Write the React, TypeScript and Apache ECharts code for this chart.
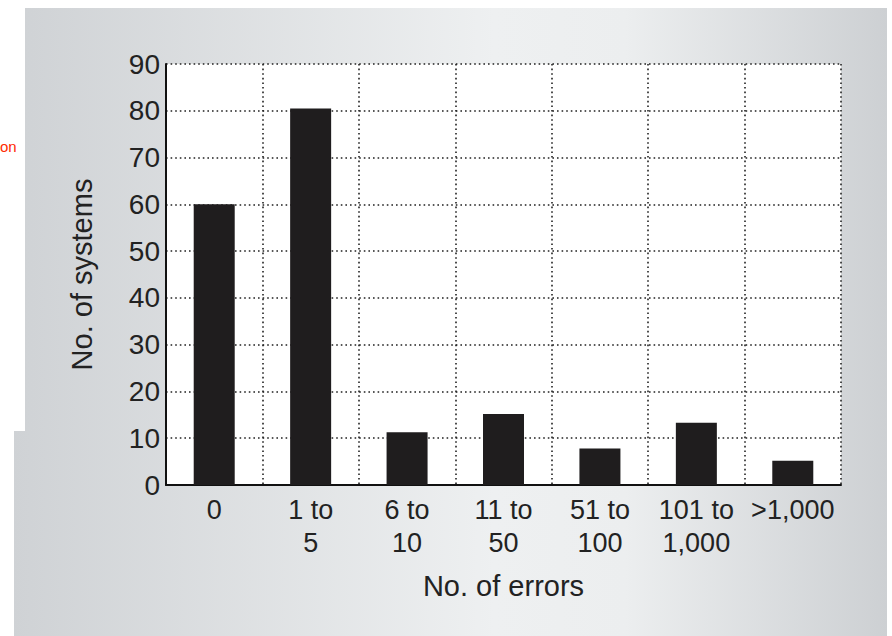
import React, { useEffect, useRef } from "react";
import * as echarts from "echarts";

const categories = ["0", "1 to\n5", "6 to\n10", "11 to\n50", "51 to\n100", "101 to\n1,000", ">1,000"];
const systemCounts = [60, 80.5, 11.3, 15.2, 7.8, 13.3, 5.2];
const yTicks = { min: 0, max: 90, interval: 10 };
const xAxisTitle = "No. of errors";
const yAxisTitle = "No. of systems";

export default function App() {
  const ref = useRef<HTMLDivElement>(null);
  useEffect(() => {
    document.body.style.margin = "0";
    const chart = echarts.init(ref.current!, undefined, { renderer: "svg" });
    const font = "'Liberation Sans', Arial, Helvetica, sans-serif";
    const txt = "#222222";
    chart.setOption({
      animation: false,
      graphic: [
        {
          type: "polygon",
          z: -10,
          silent: true,
          shape: {
            points: [
              [25, 8],
              [887, 8],
              [887, 636],
              [14, 636],
              [14, 431],
              [25, 431],
            ],
          },
          style: {
            fill: {
              type: "linear",
              x: 0,
              y: 0,
              x2: 1,
              y2: 0,
              colorStops: [
                { offset: 0, color: "#cfd2d5" },
                { offset: 0.55, color: "#eef0f1" },
                { offset: 0.7, color: "#eceeef" },
                { offset: 1, color: "#cdd0d3" },
              ],
            },
          },
        },
        {
          type: "text",
          left: 0,
          top: 139,
          style: { text: "on", fill: "#ff2a00", font: `15px ${font}` },
        },
      ],
      grid: {
        left: 166,
        top: 64,
        width: 675,
        height: 421,
        show: true,
        backgroundColor: "#ffffff",
        borderWidth: 0,
      },
      xAxis: {
        type: "category",
        data: categories,
        name: xAxisTitle,
        nameLocation: "middle",
        nameGap: 86,
        nameTextStyle: { fontSize: 29, fontFamily: font, color: txt },
        axisLine: { show: true, lineStyle: { color: "#111", width: 2 } },
        axisTick: { show: false },
        axisLabel: {
          fontSize: 27,
          fontFamily: font,
          color: txt,
          lineHeight: 33,
          margin: 8,
          interval: 0,
        },
        splitLine: {
          show: true,
          interval: 0,
          lineStyle: { color: "#222", width: 1.6, type: [1.6, 3] },
        },
      },
      yAxis: {
        type: "value",
        min: yTicks.min,
        max: yTicks.max,
        interval: yTicks.interval,
        name: yAxisTitle,
        nameLocation: "middle",
        nameGap: 70,
        nameTextStyle: { fontSize: 29, fontFamily: font, color: txt },
        axisLine: { show: true, lineStyle: { color: "#111", width: 2 } },
        axisTick: { show: false },
        axisLabel: { fontSize: 28, fontFamily: font, color: txt, margin: 6 },
        splitLine: {
          show: true,
          lineStyle: { color: "#222", width: 1.6, type: [1.6, 3] },
        },
      },
      series: [
        {
          type: "bar",
          data: systemCounts,
          barWidth: 41,
          itemStyle: { color: "#1f1d1e" },
        },
      ],
    });
    return () => chart.dispose();
  }, []);
  return <div ref={ref} style={{ width: 892, height: 636 }} />;
}
